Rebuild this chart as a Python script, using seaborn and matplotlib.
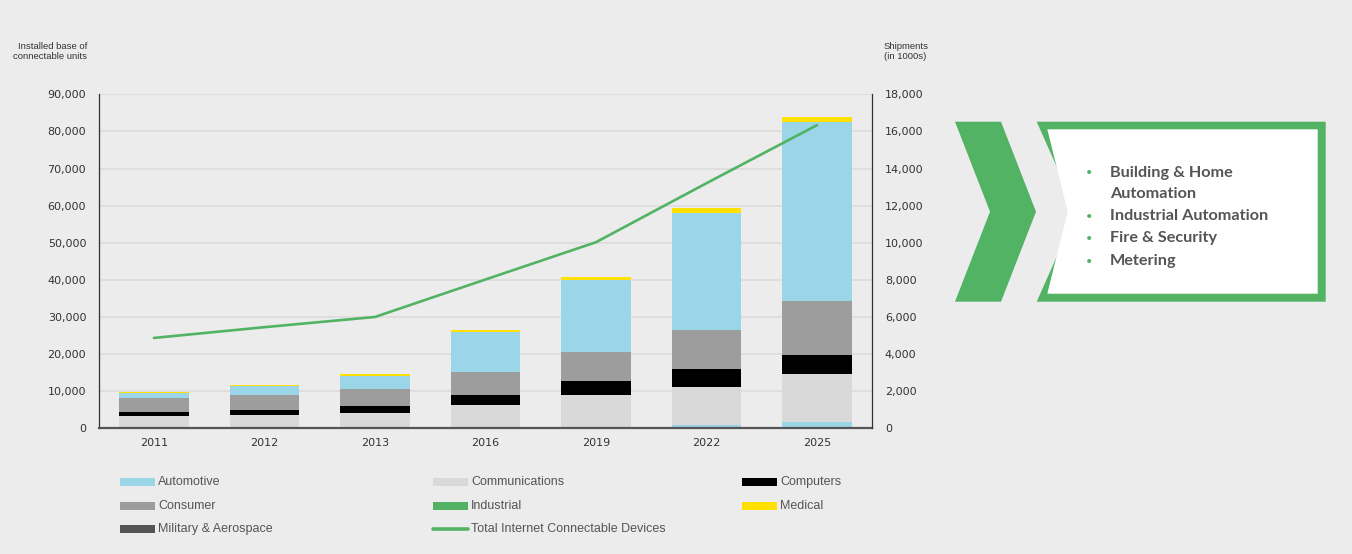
import numpy as np
import pandas as pd
import matplotlib
matplotlib.use("Agg")
import matplotlib.pyplot as plt
from matplotlib.patches import Polygon, Rectangle
from matplotlib.lines import Line2D
import seaborn as sns

# ---------------- data ----------------
years = ["2011", "2012", "2013", "2016", "2019", "2022", "2025"]
# installed base of connectable units (stacked, bottom -> top)
automotive_lower = [0, 0, 0, 0, 400, 900, 1700]
communications = [3300, 3600, 4200, 6300, 8600, 10250, 12950]
computers = [1100, 1350, 1900, 2700, 3760, 4850, 5100]
consumer = [3850, 4050, 4500, 6200, 7820, 10500, 14570]
industrial = [0, 0, 0, 0, 0, 0, 0]
military = [0, 0, 0, 0, 0, 0, 0]
automotive = [1300, 2500, 3500, 10800, 19500, 31480, 48300]
medical = [350, 200, 550, 550, 720, 1420, 1350]
# shipments (in 1000s), right axis
total_devices = [4870, 5450, 6000, 8020, 10030, 13210, 16340]

left_ticks = [0, 10000, 20000, 30000, 40000, 50000, 60000, 70000, 80000, 90000]
right_ticks = [0, 2000, 4000, 6000, 8000, 10000, 12000, 14000, 16000, 18000]
bullets = ["Building & Home\nAutomation", "Industrial Automation", "Fire & Security", "Metering"]

# ---------------- style ----------------
BG = "#ECECEC"
GREEN = "#52B365"
colors = {
    "Automotive": "#9AD5E8",
    "Communications": "#D9D9D9",
    "Computers": "#000000",
    "Consumer": "#9C9D9C",
    "Industrial": GREEN,
    "Medical": "#FFE000",
    "Military & Aerospace": "#555555",
}

sns.set_theme(style="white")
plt.rcParams["font.family"] = ["DejaVu Sans"]

W, H = 1352, 554
fig = plt.figure(figsize=(W / 100, H / 100), dpi=100, facecolor=BG)

def px(x0, y0, x1, y1):
    return [x0 / W, 1 - y1 / H, (x1 - x0) / W, (y1 - y0) / H]

ax = fig.add_axes(px(98.7, 94.3, 872.3, 428.3))
ax.set_facecolor(BG)

layers = [
    ("lower", automotive_lower, colors["Automotive"]),
    ("Communications", communications, colors["Communications"]),
    ("Computers", computers, colors["Computers"]),
    ("Consumer", consumer, colors["Consumer"]),
    ("Industrial", industrial, colors["Industrial"]),
    ("Military & Aerospace", military, colors["Military & Aerospace"]),
    ("Automotive", automotive, colors["Automotive"]),
    ("Medical", medical, colors["Medical"]),
]
cum = np.cumsum(np.array([l[1] for l in layers], dtype=float), axis=0)
# draw from top of stack downwards so lower layers overlay
for i in range(len(layers) - 1, -1, -1):
    df = pd.DataFrame({"year": years, "value": cum[i]})
    sns.barplot(data=df, x="year", y="value", color=layers[i][2], saturation=1,
                width=0.63, ax=ax, linewidth=0, zorder=2)

ax.set_ylim(0, 90000)
ax.set_xlim(-0.5, len(years) - 0.5)
ax.set_yticks(left_ticks)
ax.set_yticklabels([f"{v:,}" for v in left_ticks])
ax.set_xlabel("")
ax.set_ylabel("")
ax.yaxis.grid(True, color="#DCDCDC", linewidth=1.2, zorder=0)
ax.set_axisbelow(True)
ax.tick_params(axis="y", length=0, pad=9, labelsize=8, colors="#333333")
ax.tick_params(axis="x", length=0, pad=7, labelsize=8, colors="#333333")
for s in ["top", "right"]:
    ax.spines[s].set_visible(False)
ax.spines["left"].set_color("#333333")
ax.spines["left"].set_linewidth(0.9)
ax.spines["bottom"].set_color("#555555")
ax.spines["bottom"].set_linewidth(1.6)

ax2 = ax.twinx()
sns.lineplot(x=np.arange(len(years)), y=total_devices, ax=ax2, color=GREEN,
             linewidth=1.9, zorder=5)
ax2.set_ylim(0, 18000)
ax2.set_yticks(right_ticks)
ax2.set_yticklabels([f"{v:,}" for v in right_ticks])
ax2.tick_params(axis="y", length=0, pad=9, labelsize=8, colors="#333333")
for s in ["top", "left", "bottom"]:
    ax2.spines[s].set_visible(False)
ax2.spines["right"].set_visible(True)
ax2.spines["right"].set_color("#333333")
ax2.spines["right"].set_linewidth(0.9)
ax2.set_ylabel("")

# axis titles
tfont = ["Liberation Sans", "DejaVu Sans"]
fig.text(87 / W, 1 - 51.5 / H, "Installed base of\nconnectable units", ha="right", va="center",
         fontsize=6.8, color="#333333", family=tfont, linespacing=1.05)
fig.text(884 / W, 1 - 51.5 / H, "Shipments\n(in 1000s)", ha="left", va="center",
         fontsize=6.8, color="#333333", family=tfont, linespacing=1.05)

# ---------------- overlay (pixel coords) ----------------
ov = fig.add_axes([0, 0, 1, 1], facecolor="none")
ov.set_xlim(0, W)
ov.set_ylim(H, 0)
ov.axis("off")

legend_items = [
    ("Automotive", "patch"), ("Communications", "patch"), ("Computers", "patch"),
    ("Consumer", "patch"), ("Industrial", "patch"), ("Medical", "patch"),
    ("Military & Aerospace", "patch"), ("Total Internet Connectable Devices", "line"),
]
col_x = [120, 433, 742]
row_y = [482, 506, 529]
lfont = ["Liberation Sans Narrow", "Liberation Sans", "DejaVu Sans"]
for k, (name, kind) in enumerate(legend_items):
    r, c = divmod(k, 3)
    x0, y0 = col_x[c], row_y[r]
    if kind == "patch":
        ov.add_patch(Rectangle((x0, y0 - 4), 35, 8, color=colors[name], lw=0))
    else:
        ov.add_line(Line2D([x0, x0 + 35], [y0, y0], color=GREEN, lw=2.6))
    ov.text(x0 + 38, y0, name, ha="left", va="center", fontsize=9,
            color="#555555", family=lfont)

# chevron
ov.add_patch(Polygon([(955, 121.7), (1001, 121.7), (1036, 211.7), (1001, 301.7),
                      (955, 301.7), (990, 211.7)], closed=True, color=GREEN, lw=0))
# outlined box with notch
ov.add_patch(Polygon([(1036.7, 121.7), (1325.7, 121.7), (1325.7, 301.7), (1036.7, 301.7),
                      (1076.7, 211.7)], closed=True, color=GREEN, lw=0))
ov.add_patch(Polygon([(1047.3, 129.3), (1317.7, 129.3), (1317.7, 293.7), (1047.3, 293.7),
                      (1067.7, 211.7)], closed=True, color="white", lw=0))

bfont = ["Lato", "DejaVu Sans"]
y = 172.5
step_wrap = 21.5
step_item = 22.2
for b in bullets:
    lines = b.split("\n")
    ov.text(1089, y + 0.5, "•", ha="center", va="center", fontsize=8, color=GREEN, family=bfont)
    for j, ln in enumerate(lines):
        ov.text(1110, y, ln, ha="left", va="center", fontsize=11.7, fontweight="bold",
                color="#555555", family=bfont)
        if j < len(lines) - 1:
            y += step_wrap
    y += step_item

fig.savefig("out.png", dpi=100, facecolor=BG)
